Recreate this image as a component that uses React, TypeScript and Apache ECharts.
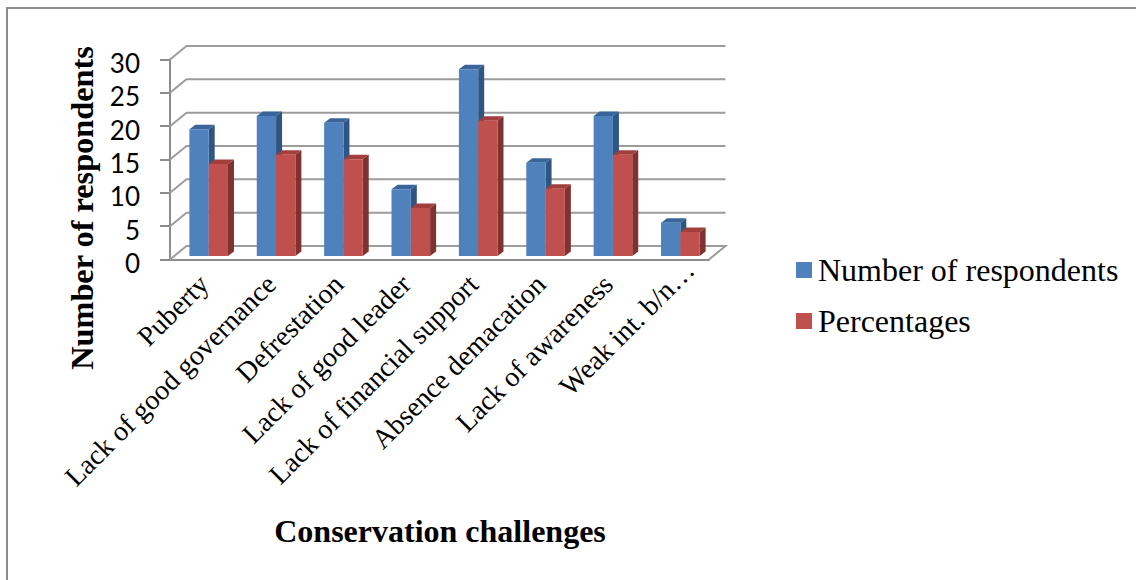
import React, { useEffect, useRef } from "react";
import * as echarts from "echarts";

const categories = [
  "Puberty",
  "Lack of good governance",
  "Defrestation",
  "Lack of good leader",
  "Lack of financial support",
  "Absence demacation",
  "Lack of awareness",
  "Weak int. b/n…",
];
const respondents = [19, 21, 20, 10, 28, 14, 21, 5];
const percentages = [13.8, 15.2, 14.5, 7.2, 20.3, 10.1, 15.2, 3.6];
const yTicks = [0, 5, 10, 15, 20, 25, 30];

const WALL_DX = 16.5;
const WALL_DY = 13.5;
const BAR_W = 19.3;
const BAR_DX = 6;
const BAR_DY = 4.5;
const FLOOR_DX = 5;
const FLOOR_DY = 3.5;
const SERIF = "'Liberation Serif', serif";

function barRenderer(offsetIndex: number, front: string, side: string, top: string) {
  return (_: any, api: any) => {
    const idx = api.value(0);
    const v = api.value(1);
    const b = api.coord([idx, 0]);
    const t = api.coord([idx, v]);
    const x0 = b[0] + FLOOR_DX - BAR_W + offsetIndex * BAR_W;
    const x1 = x0 + BAR_W;
    const yb = b[1] - FLOOR_DY;
    const yt = t[1] - FLOOR_DY;
    return {
      type: "group",
      children: [
        {
          type: "polygon",
          shape: { points: [[x1, yb], [x1 + BAR_DX, yb - BAR_DY], [x1 + BAR_DX, yt - BAR_DY], [x1, yt]] },
          style: { fill: side },
        },
        {
          type: "polygon",
          shape: { points: [[x0, yt], [x0 + BAR_DX, yt - BAR_DY], [x1 + BAR_DX, yt - BAR_DY], [x1, yt]] },
          style: { fill: top },
        },
        { type: "rect", shape: { x: x0, y: yt, width: BAR_W, height: yb - yt }, style: { fill: front } },
      ],
    };
  };
}

function wallRenderer(params: any, api: any) {
  const cs = params.coordSys;
  const v = api.value(0);
  const y = api.coord([0, v])[1];
  const xl = cs.x;
  const xr = cs.x + cs.width;
  const points: number[][] = [[xl, y], [xl + WALL_DX, y - WALL_DY], [xr + WALL_DX, y - WALL_DY]];
  if (v === 0) points.push([xr, y]);
  return {
    type: "polyline",
    shape: { points },
    style: { fill: "none", stroke: "#9c9c9c", lineWidth: 2 },
  };
}

export default function App() {
  const ref = useRef<HTMLDivElement>(null);
  useEffect(() => {
    const chart = echarts.init(ref.current!, undefined, { renderer: "svg" });
    chart.setOption({
      animation: false,
      backgroundColor: "#ffffff",
      grid: { left: 170, top: 59.5, width: 539, height: 200 },
      legend: {
        left: 796,
        top: 254,
        padding: 0,
        orient: "vertical",
        icon: "rect",
        itemWidth: 16,
        itemHeight: 16,
        itemGap: 19,
        data: ["Number of respondents", "Percentages"],
        textStyle: { fontFamily: SERIF, fontSize: 32, color: "#000", padding: [0, 0, 0, 1] },
      },
      xAxis: {
        type: "category",
        data: categories.map((c, i) =>
          i === categories.length - 1 ? { value: c, textStyle: { padding: [0, -20, 0, 0] } } : c
        ),
        axisTick: { show: false },
        axisLine: { lineStyle: { color: "#8c8c8c", width: 2 } },
        axisLabel: {
          interval: 0,
          rotate: 45,
          margin: 20,
          fontFamily: SERIF,
          fontSize: 28,
          color: "#000",
        },
      },
      yAxis: {
        type: "value",
        min: 0,
        max: 30,
        interval: 5,
        splitLine: { show: false },
        axisLine: { show: true, lineStyle: { color: "#8c8c8c", width: 2 } },
        axisTick: { show: true, length: 10, lineStyle: { color: "#8c8c8c", width: 2 } },
        axisLabel: {
          fontFamily: "Lato",
          fontSize: 26,
          color: "#000",
          margin: 30,
          verticalAlign: "top",
          lineHeight: 7,
        },
      },
      graphic: [
        {
          type: "polyline",
          silent: true,
          shape: { points: [[7, 580], [7, 8], [1136, 8]] },
          style: { fill: "none", stroke: "#8c8c8c", lineWidth: 2 },
        },
        {
          type: "text",
          x: 82,
          y: 208,
          rotation: Math.PI / 2,
          style: {
            text: "Number of respondents",
            fontFamily: SERIF,
            fontWeight: "bold",
            fontSize: 32.3,
            fill: "#000",
            align: "center",
            verticalAlign: "middle",
          },
        },
        {
          type: "text",
          x: 440,
          y: 531,
          style: {
            text: "Conservation challenges",
            fontFamily: SERIF,
            fontWeight: "bold",
            fontSize: 32,
            fill: "#000",
            align: "center",
            verticalAlign: "middle",
          },
        },
      ],
      series: [
        {
          type: "custom",
          name: "walls",
          z: 1,
          silent: true,
          renderItem: wallRenderer,
          data: yTicks.map((v) => [v]),
          encode: { y: 0 },
        },
        {
          type: "custom",
          name: "Number of respondents",
          z: 2,
          itemStyle: { color: "#4F81BD" },
          renderItem: barRenderer(0, "#4F81BD", "#2F5583", "#3A659B"),
          data: respondents.map((v, i) => [i, v]),
          encode: { x: 0, y: 1 },
        },
        {
          type: "custom",
          name: "Percentages",
          z: 3,
          itemStyle: { color: "#C0504D" },
          renderItem: barRenderer(1, "#C0504D", "#7F3230", "#A23F3C"),
          data: percentages.map((v, i) => [i, v]),
          encode: { x: 0, y: 1 },
        },
      ],
    });
    return () => chart.dispose();
  }, []);
  return <div ref={ref} style={{ position: "absolute", left: 0, top: 0, width: 1136, height: 580 }} />;
}
